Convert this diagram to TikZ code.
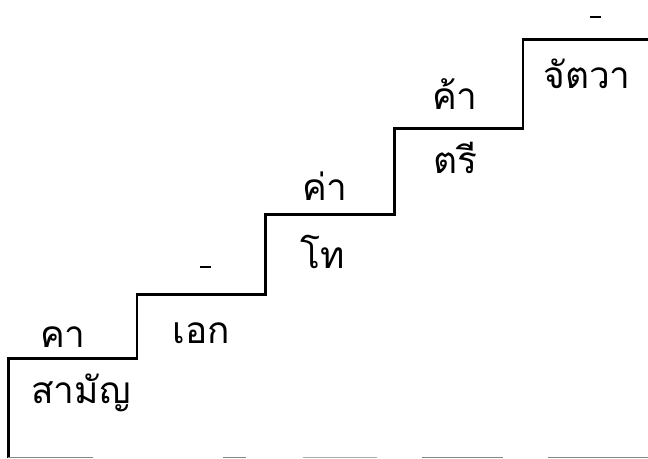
\documentclass[tikz,border=0pt]{standalone}
\usepackage{fontspec}
\newfontfamily\thaifont[Script=Thai]{Loma}
\tikzset{
  stair/.style={line width=2.6pt, line join=miter, line cap=butt},
  lbl/.style={font=\thaifont\fontsize{37}{42}\selectfont, anchor=base, inner sep=0pt},
  dashmark/.style={line width=2.4pt},
  baseline seg/.style={line width=1pt, draw=black!47},
}
\begin{document}
\begin{tikzpicture}[x=1pt,y=-1pt]
\useasboundingbox (0,0) rectangle (648,458);
% staircase
\coordinate (s0) at (8.5,458);
\coordinate (s1) at (8.5,358.5);
\coordinate (s2) at (137,358.5);
\coordinate (s3) at (137,294.5);
\coordinate (s4) at (265.5,294.5);
\coordinate (s5) at (265.5,214.5);
\coordinate (s6) at (394.5,214.5);
\coordinate (s7) at (394.5,128.5);
\coordinate (s8) at (523,128.5);
\coordinate (s9) at (523,39.5);
\coordinate (s10) at (648,39.5);
\draw[stair] (s0) -- (s1) -- (s2) -- (s3) -- (s4) -- (s5) -- (s6) -- (s7) -- (s8) -- (s9) -- (s10);
% labels
\node[lbl] (w1) at (63,347) {คา};
\node[lbl] (t1) at (81,403) {สามัญ};
\node[lbl] (t2) at (201,343) {เอก};
\node[lbl] (w3) at (325,200) {ค่า};
\node[lbl] (t3) at (323,268) {โท};
\node[lbl] (w4) at (455,109) {ค้า};
\node[lbl] (t4) at (455,173) {ตรี};
\node[lbl] (t5) at (587,88) {จัตวา};
% dash marks
\coordinate (d1a) at (199.5,267); \coordinate (d1b) at (210.5,267);
\coordinate (d2a) at (590,17); \coordinate (d2b) at (601,17);
\draw[dashmark] (d1a) -- (d1b);
\draw[dashmark] (d2a) -- (d2b);
% bottom segments
\coordinate (b1a) at (8,457.5); \coordinate (b1b) at (93,457.5);
\coordinate (b2a) at (223,457.5); \coordinate (b2b) at (246,457.5);
\coordinate (b3a) at (303,457.5); \coordinate (b3b) at (377,457.5);
\coordinate (b4a) at (422,457.5); \coordinate (b4b) at (503,457.5);
\coordinate (b5a) at (548,457.5); \coordinate (b5b) at (648,457.5);
\draw[baseline seg] (b1a) -- (b1b);
\draw[baseline seg] (b2a) -- (b2b);
\draw[baseline seg, draw=black!33] (b3a) -- (b3b);
\draw[baseline seg] (b4a) -- (b4b);
\draw[baseline seg] (b5a) -- (b5b);
\end{tikzpicture}
\end{document}
